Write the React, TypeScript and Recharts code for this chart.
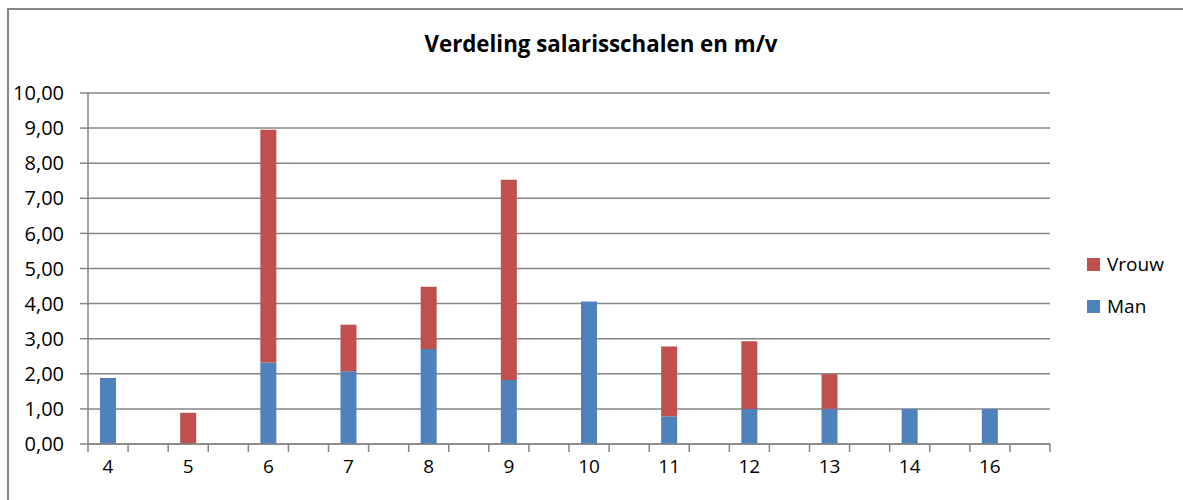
import React from 'react';
import { BarChart, Bar, XAxis, YAxis, CartesianGrid } from 'recharts';

const categories = ['4', '5', '6', '7', '8', '9', '10', '11', '12', '13', '14', '16'];
const manValues = [1.88, 0, 2.32, 2.07, 2.71, 1.82, 4.06, 0.79, 1.0, 1.0, 1.0, 1.0];
const vrouwValues = [0, 0.89, 6.63, 1.33, 1.77, 5.71, 0, 1.99, 1.93, 0.99, 0, 0];
const yTicks = [0, 1, 2, 3, 4, 5, 6, 7, 8, 9, 10];

const series = [
  { key: 'vrouw', name: 'Vrouw', color: '#C0504D' },
  { key: 'man', name: 'Man', color: '#4F81BD' },
];

// every category is followed by an empty slot, like the source sheet
const rows: Record<string, number | string>[] = [];
categories.forEach((cat, i) => {
  rows.push({ label: cat, man: manValues[i], vrouw: vrouwValues[i] });
  rows.push({ label: '', man: 0, vrouw: 0 });
});

const gridColor = '#868686';
const TICK_SIZE = 8;
const TICK_MARGIN = 8;

// label plus Excel-style tick marks between the slots
function SlotTick(props: any) {
  const { x, y, payload, index, width, visibleTicksCount } = props;
  const band = width / visibleTicksCount;
  const axisY = y - TICK_SIZE - TICK_MARGIN;
  const left = x - band / 2;
  return (
    <g>
      <line x1={left} x2={left} y1={axisY} y2={axisY + TICK_SIZE} stroke={gridColor} strokeWidth={1.5} />
      {index === visibleTicksCount - 1 && (
        <line x1={left + band} x2={left + band} y1={axisY} y2={axisY + TICK_SIZE} stroke={gridColor} strokeWidth={1.5} />
      )}
      <text x={x} y={y} dy="0.71em" textAnchor="middle" fill="#000" fontSize={19}>
        {payload.value}
      </text>
    </g>
  );
}

export default function App() {
  return (
    <>
      <style>{'html,body{margin:0;overflow:hidden;}'}</style>
      <div
        style={{
          position: 'relative',
          marginLeft: 7,
          marginTop: 8,
          width: 1174,
          height: 490,
          overflow: 'hidden',
          borderTop: `2px solid ${gridColor}`,
          borderLeft: `2px solid ${gridColor}`,
          fontFamily: '"Open Sans", Lato, sans-serif',
          background: '#fff',
        }}
      >
        <div
          style={{
            position: 'absolute',
            left: 0,
            top: 18,
            width: 1174,
            paddingLeft: 10,
            boxSizing: 'border-box',
            textAlign: 'center',
            fontWeight: 700,
            fontSize: 22.3,
            color: '#000',
          }}
        >
          Verdeling salarisschalen en m/v
        </div>

        <BarChart
          width={1174}
          height={490}
          data={rows}
          margin={{ top: 83, right: 133, bottom: 0, left: 0 }}
          barSize={16}
        >
          <CartesianGrid vertical={false} stroke={gridColor} strokeWidth={1.5} />
          <XAxis
            dataKey="label"
            height={56}
            interval={0}
            tickLine={false}
            tickSize={TICK_SIZE}
            tickMargin={TICK_MARGIN}
            axisLine={{ stroke: gridColor, strokeWidth: 1.5 }}
            tick={<SlotTick />}
          />
          <YAxis
            domain={[0, 10]}
            ticks={yTicks}
            interval={0}
            width={79}
            tickSize={8}
            tickMargin={16}
            axisLine={{ stroke: gridColor, strokeWidth: 1.5 }}
            tickLine={{ stroke: gridColor, strokeWidth: 1.5 }}
            tick={{ fill: '#000', fontSize: 20 }}
            tickFormatter={(v: number) => v.toFixed(2).replace('.', ',')}
          />
          <Bar dataKey="man" name="Man" stackId="a" fill="#4F81BD" isAnimationActive={false} />
          <Bar dataKey="vrouw" name="Vrouw" stackId="a" fill="#C0504D" isAnimationActive={false} />
        </BarChart>

        <div style={{ position: 'absolute', left: 1078, top: 240, fontSize: 19, color: '#000' }}>
          {series.map(s => (
            <div key={s.key} style={{ display: 'flex', alignItems: 'center', height: 28, marginBottom: 14 }}>
              <span style={{ width: 13, height: 13, background: s.color, marginRight: 7 }} />
              <span>{s.name}</span>
            </div>
          ))}
        </div>
      </div>
    </>
  );
}
